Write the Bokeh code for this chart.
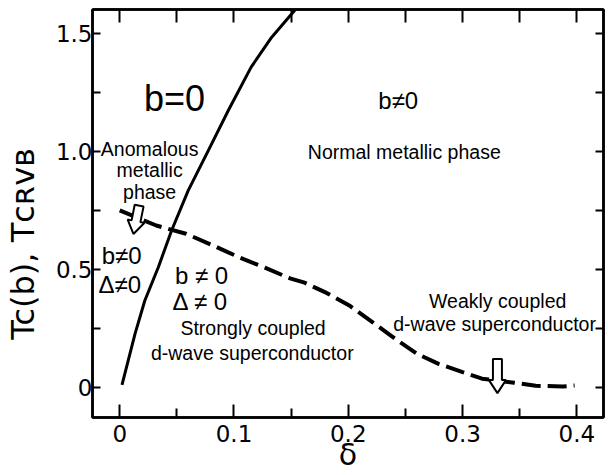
import math
from bokeh.plotting import figure
from bokeh.models import (Range1d, LinearAxis, FixedTicker, CustomJSTickFormatter)
from bokeh.core.properties import value
from bokeh.embed import file_html
from bokeh.resources import INLINE

# ---------------- data ----------------
# solid line: Tc(b) boundary (b = 0 / b != 0)
solid_delta = [0.002, 0.0134, 0.022, 0.0338, 0.0454, 0.060, 0.0775, 0.095, 0.115, 0.133, 0.153, 0.158]
solid_T     = [0.010, 0.226, 0.368, 0.509, 0.665, 0.835, 1.004, 1.174, 1.358, 1.485, 1.598, 1.630]

# dashed line: T_CRVB (pairing boundary)
dash_delta = [0.0, 0.032, 0.058, 0.080, 0.104, 0.127, 0.149, 0.161, 0.181, 0.2017, 0.222,
              0.242, 0.260, 0.279, 0.300, 0.317, 0.345, 0.364, 0.3875, 0.398]
dash_T     = [0.750, 0.686, 0.651, 0.605, 0.552, 0.507, 0.462, 0.445, 0.400, 0.344, 0.273,
              0.202, 0.142, 0.099, 0.064, 0.036, 0.019, 0.006, 0.003, 0.007]

x_ticks = [0, 0.1, 0.2, 0.3, 0.4]
x_minor = [0.05, 0.15, 0.25, 0.35]
y_ticks = [0, 0.5, 1.0, 1.5]
y_minor = [0.25, 0.75, 1.25]

x_title = "δ"
y_title = "Tc(b), Tᴄʀᴠʙ"
Y_TITLE_PAD = "\u00a0" * 6   # trailing padding moves the rotated title down

# region names
phase_text = ["Anomalous", "metallic", "phase", "Normal metallic phase",
              "Strongly coupled", "d-wave superconductor",
              "Weakly coupled", "d-wave superconductor"]
phase_x = [0.0262, 0.0262, 0.0262, 0.249, 0.1167, 0.116, 0.3307, 0.328]
phase_y = [1.009, 0.920, 0.830, 1.000, 0.250, 0.145, 0.364, 0.270]

# order-parameter notes
order_text = ["b≠0", "b≠0", "Δ≠0", "b ≠ 0", "Δ ≠ 0"]
order_x = [0.2437, 0.0017, 0.0, 0.0716, 0.0707]
order_y = [1.215, 0.557, 0.434, 0.472, 0.365]

hand_text = "b=0"
hand_x, hand_y = 0.048, 1.225

# hollow arrows (tail -> tip)
arrow_x_tail = [0.017, 0.3305]
arrow_y_tail = [0.770, 0.120]
arrow_x_tip  = [0.012, 0.3305]
arrow_y_tip  = [0.650, -0.025]

# ---------------- figure ----------------
W, H = 608, 475
BL, BR, BT, BB = 92, 5, 9, 58
x0, x1 = -0.0238, 0.4233
y0, y1 = -0.1286, 1.6025

p = figure(width=W, height=H, x_range=Range1d(x0, x1), y_range=Range1d(y0, y1),
           output_backend="svg", toolbar_location=None,
           x_axis_location=None, y_axis_location=None,
           min_border_left=BL, min_border_right=BR, min_border_top=BT, min_border_bottom=BB)
p.grid.visible = False
p.outline_line_color = "black"
p.outline_line_width = 2.5
p.background_fill_color = "white"
p.border_fill_color = "white"

fmt = CustomJSTickFormatter(code="return tick == 0 ? '0' : tick.toFixed(1);")
blank = CustomJSTickFormatter(code="return '';")
TICK_FONT = "DejaVu Sans"

def make_axis(ticks, minor, tin, mtin, show_labels, standoff=6):
    return LinearAxis(ticker=FixedTicker(ticks=ticks, minor_ticks=minor),
                      formatter=fmt if show_labels else blank,
                      major_tick_in=tin, major_tick_out=0, minor_tick_in=mtin, minor_tick_out=0,
                      major_tick_line_width=2, minor_tick_line_width=2,
                      major_tick_line_color="black", minor_tick_line_color="black",
                      axis_line_width=2.5, axis_line_color="black",
                      major_label_text_font=TICK_FONT, major_label_text_color="black",
                      major_label_text_font_size="23px" if show_labels else "1px",
                      major_label_standoff=standoff if show_labels else 0)

xb = make_axis(x_ticks, x_minor, 13, 9, True, 7)
xb.axis_label = x_title
xb.axis_label_text_font = "DejaVu Sans"
xb.axis_label_text_font_size = "30px"
xb.axis_label_text_font_style = "normal"
xb.axis_label_text_color = "black"
xb.axis_label_standoff = -8
p.add_layout(xb, "below")

yl = make_axis(y_ticks, y_minor, 8, 8, True, 0)
p.add_layout(yl, "left")

# outer left axis carrying only the title
yt = LinearAxis(ticker=FixedTicker(ticks=[], minor_ticks=[]), formatter=blank,
                axis_line_color=None,
                major_tick_line_color=None, minor_tick_line_color=None,
                major_label_text_font_size="1px", major_label_standoff=0,
                axis_label=y_title + Y_TITLE_PAD, axis_label_text_font="DejaVu Sans",
                axis_label_text_font_size="32px", axis_label_text_font_style="normal",
                axis_label_text_color="black", axis_label_standoff=11)
p.add_layout(yt, "left")

p.add_layout(make_axis(x_ticks, x_minor, 13, 13, False), "above")
p.add_layout(make_axis(y_ticks, y_minor, 8, 8, False), "right")

# curves
p.line(solid_delta, solid_T, line_color="black", line_width=3)
p.line(dash_delta, dash_T, line_color="black", line_width=4, line_dash="19 7")

# hollow arrows
fw = W - BL - BR
fh = H - BT - BB
ppx = fw / (x1 - x0)
ppy = fh / (y1 - y0)
SHAFT_HW, HEAD_HW, HEAD_LEN = 4.5, 8.5, 13.0

def hollow_arrow(xt, yt_, xh, yh):
    a0, b0 = xt * ppx, yt_ * ppy
    a1, b1 = xh * ppx, yh * ppy
    dx, dy = a1 - a0, b1 - b0
    L = math.hypot(dx, dy)
    ux, uy = dx / L, dy / L
    nx, ny = -uy, ux
    kx, ky = a1 - HEAD_LEN * ux, b1 - HEAD_LEN * uy
    pts = [(a0 + SHAFT_HW * nx, b0 + SHAFT_HW * ny),
           (kx + SHAFT_HW * nx, ky + SHAFT_HW * ny),
           (kx + HEAD_HW * nx, ky + HEAD_HW * ny),
           (a1, b1),
           (kx - HEAD_HW * nx, ky - HEAD_HW * ny),
           (kx - SHAFT_HW * nx, ky - SHAFT_HW * ny),
           (a0 - SHAFT_HW * nx, b0 - SHAFT_HW * ny)]
    return [q[0] / ppx for q in pts], [q[1] / ppy for q in pts]

axs, ays = [], []
for a, b, c, d in zip(arrow_x_tail, arrow_y_tail, arrow_x_tip, arrow_y_tip):
    ax_, ay_ = hollow_arrow(a, b, c, d)
    axs.append(ax_)
    ays.append(ay_)
p.patches(axs, ays, fill_color="white", line_color="black", line_width=2)

# texts
SANS = "Liberation Sans"
p.text(x=phase_x, y=phase_y, text=phase_text, text_font=value(SANS),
       text_font_size="19.5px", text_align="center", text_baseline="alphabetic",
       text_color="black")
p.text(x=order_x, y=order_y, text=order_text, text_font=value(SANS),
       text_font_size="24px", text_align="center", text_baseline="alphabetic",
       text_color="black")
p.text(x=[hand_x], y=[hand_y], text=[hand_text], text_font=value(SANS),
       text_font_size="36px", text_align="center", text_baseline="alphabetic",
       text_color="black")

open("out.html", "w").write(file_html(p, INLINE))
